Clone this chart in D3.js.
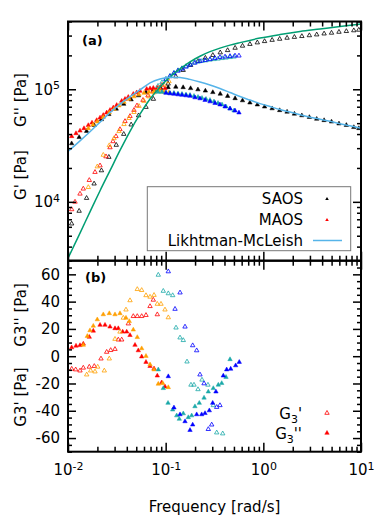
<!DOCTYPE html>
<html><head><meta charset="utf-8">
<script src="https://cdn.jsdelivr.net/npm/d3@7"></script>
<style>body{margin:0;background:#fff}svg{display:block}text{font-family:"DejaVu Sans",sans-serif}</style>
</head><body><svg id="c" width="390" height="520"></svg>
<script>
// ---------- DATA ----------
const xTickLabels = [0.01, 0.1, 1, 10];
const yATickLabels = [1e4, 1e5];
const yBTickLabels = [-60, -40, -20, 0, 20, 40, 60];

const saosFreq = [0.0109,0.0130,0.0155,0.0185,0.0220,0.0262,0.0312,0.0372,0.0443,0.0528,0.0629,0.0749,0.0892,0.106,0.127,0.151,0.180,0.214,0.255,0.304,0.362,0.431,0.514,0.612,0.729,0.868,1.03,1.23,1.47,1.75,2.08,2.48,2.96,3.52,4.19,4.99,5.95,7.08,8.44,9.5];
const saosStorage = [6.4e3,8.3e3,1.08e4,1.45e4,1.9e4,2.5e4,3.2e4,4.0e4,4.85e4,5.85e4,6.95e4,8.2e4,9.6e4,1.12e5,1.3e5,1.48e5,1.64e5,1.78e5,1.9e5,2.01e5,2.12e5,2.22e5,2.33e5,2.43e5,2.52e5,2.6e5,2.67e5,2.74e5,2.8e5,2.86e5,2.91e5,2.96e5,3.01e5,3.06e5,3.12e5,3.17e5,3.23e5,3.28e5,3.33e5,3.37e5];
const saosLoss = [3.3e4,3.75e4,4.25e4,4.8e4,5.4e4,6.0e4,6.7e4,7.4e4,8.1e4,8.8e4,9.4e4,9.9e4,1.02e5,1.04e5,1.05e5,1.04e5,1.02e5,9.95e4,9.7e4,9.4e4,9.1e4,8.7e4,8.3e4,7.95e4,7.6e4,7.3e4,7.0e4,6.75e4,6.5e4,6.3e4,6.05e4,5.85e4,5.65e4,5.45e4,5.3e4,5.15e4,4.95e4,4.8e4,4.6e4,4.5e4];

const lmFreq = [0.0100,0.01327,0.01679,0.02128,0.02692,0.03405,0.04314,0.05458,0.06918,0.0875,0.1107,0.1403,0.1775,0.2245,0.2843,0.3597,0.456,0.5768,0.7298,0.9247,1.17,1.482,1.875,2.373,3.006,3.802,4.815,6.095,7.713,10.0];
const lmLoss = [2.80e4,3.48e4,4.19e4,5.10e4,6.20e4,7.39e4,8.62e4,9.86e4,1.139e5,1.236e5,1.281e5,1.275e5,1.224e5,1.162e5,1.093e5,1.016e5,9.36e4,8.62e4,8.02e4,7.46e4,7.02e4,6.60e4,6.27e4,5.95e4,5.65e4,5.42e4,5.20e4,4.94e4,4.74e4,4.51e4];

const greenFreq = [0.01,0.01327,0.01679,0.02128,0.02692,0.03405,0.04314,0.05458,0.06918,0.0875,0.1107,0.1403,0.1775,0.2245,0.2843,0.3597,0.456,0.5768,0.9247,1.482,2.373,3.802,6.095,10.0];
const greenStorage = [3152,5279,8139,1.255e4,1.894e4,2.861e4,4.234e4,6.009e4,8.189e4,1.049e5,1.289e5,1.520e5,1.755e5,1.966e5,2.158e5,2.320e5,2.467e5,2.597e5,2.850e5,3.063e5,3.259e5,3.431e5,3.613e5,3.803e5];

// MAOS, panel (a): [frequency, modulus]
const redStorage = [[0.01091,8567],[0.0118,1.0e4],[0.01327,1.179e4],[0.01434,1.307e4],[0.01652,1.558e4],[0.0189,1.837e4],[0.02128,2.101e4],[0.0245,2.529e4],[0.02692,3.043e4],[0.02888,3.445e4],[0.031,3.82e4],[0.03405,4.41e4],[0.03834,5.2e4],[0.04314,5.77e4],[0.04739,6.53e4],[0.05086,7.16e4],[0.0586,8.02e4],[0.06592,8.8e4],[0.07418,9.56e4],[0.08356,1.027e5],[0.09164,1.093e5]];
const redLoss = [[0.01091,3.82e4],[0.01208,4.06e4],[0.01327,4.28e4],[0.01458,4.5e4],[0.01614,4.79e4],[0.01761,5.04e4],[0.01967,5.31e4],[0.02128,5.59e4],[0.02298,5.89e4],[0.02489,6.2e4],[0.02692,6.53e4],[0.02909,6.87e4],[0.03152,7.23e4],[0.03546,7.86e4],[0.03834,8.19e4],[0.04144,8.53e4],[0.04662,9.08e4],[0.0505,9.36e4],[0.05458,9.65e4],[0.06393,1.006e5],[0.06918,1.017e5],[0.07471,1.027e5],[0.08151,1.027e5],[0.0875,1.027e5],[0.0984,1.017e5]];
const orangeStorage = [[0.01614,1.349e4],[0.01995,2.058e4],[0.02298,2.609e4],[0.02647,3.172e4],[0.02958,3.664e4],[0.03328,4.234e4],[0.03742,4.89e4],[0.04213,5.535e4],[0.04739,6.26e4],[0.05332,7.09e4],[0.05998,7.86e4],[0.0675,8.62e4],[0.07603,9.36e4],[0.08544,1.017e5],[0.09616,1.093e5],[0.1082,1.175e5]];
const orangeLoss = [[0.01614,4.5e4],[0.01803,4.84e4],[0.01995,5.15e4],[0.02298,5.65e4],[0.02647,6.2e4],[0.02958,6.66e4],[0.03328,7.16e4],[0.03742,7.7e4],[0.04213,8.19e4],[0.04739,8.62e4],[0.05332,8.98e4],[0.05998,9.27e4],[0.0675,9.46e4],[0.07603,9.56e4],[0.08544,9.56e4],[0.09616,9.46e4],[0.1082,9.36e4]];
const tealStorage = [[0.08356,1.07e5],[0.09164,1.151e5],[0.1007,1.236e5],[0.1107,1.315e5],[0.1216,1.399e5],[0.1337,1.473e5],[0.1469,1.536e5],[0.1615,1.6e5],[0.1775,1.667e5],[0.195,1.72e5],[0.2143,1.755e5],[0.2355,1.781e5],[0.2588,1.803e5],[0.2843,1.829e5],[0.3126,1.848e5],[0.3436,1.867e5],[0.3776,1.887e5],[0.415,1.906e5],[0.456,1.926e5],[0.5012,1.946e5]];
const tealLoss = [[0.08356,9.46e4],[0.09164,9.46e4],[0.1007,9.36e4],[0.1107,9.27e4],[0.1216,9.27e4],[0.1337,9.17e4],[0.1469,9.08e4],[0.1615,8.98e4],[0.1775,8.89e4],[0.195,8.71e4],[0.2143,8.53e4],[0.2355,8.36e4],[0.2588,8.19e4],[0.2843,8.02e4],[0.3126,7.78e4],[0.3436,7.54e4],[0.3776,7.31e4],[0.415,7.02e4],[0.456,6.73e4],[0.5012,6.46e4]];
const blueStorage = [[0.1007,1.224e5],[0.1107,1.302e5],[0.1216,1.385e5],[0.1337,1.458e5],[0.1469,1.52e5],[0.1615,1.584e5],[0.1775,1.65e5],[0.1995,1.72e5],[0.2245,1.774e5],[0.2529,1.811e5],[0.2843,1.848e5],[0.3199,1.887e5],[0.3597,1.926e5],[0.4055,1.946e5],[0.456,1.966e5],[0.5129,1.987e5],[0.563,1.987e5]];
const blueLoss = [[0.1007,9.27e4],[0.1107,9.17e4],[0.1216,9.08e4],[0.1337,8.98e4],[0.1469,8.89e4],[0.1615,8.8e4],[0.1775,8.71e4],[0.1995,8.45e4],[0.2245,8.28e4],[0.2529,8.02e4],[0.2843,7.78e4],[0.3199,7.54e4],[0.3597,7.31e4],[0.4055,7.02e4],[0.456,6.73e4],[0.5129,6.46e4],[0.563,6.2e4]];

// MAOS, panel (b): [frequency, G3 value]
const redG3p = [[0.01091,-9.3],[0.01199,-9.8],[0.01327,-10.6],[0.01434,-8.5],[0.01652,-7.8],[0.01859,-7.3],[0.02177,-1.8],[0.02489,3.1],[0.02736,4.4],[0.03028,5.2],[0.03273,12.1],[0.03546,12.1],[0.04144,23.9],[0.04662,29.3],[0.05122,29.3],[0.05683,29.3],[0.06289,30.1],[0.06918,36.6],[0.07471,41.3],[0.08209,30.6]];
const redG3pp = [[0.01091,6.4],[0.01208,7.6],[0.01327,8.0],[0.01434,9.1],[0.01652,14.1],[0.01816,18.6],[0.02128,22.9],[0.02393,22.9],[0.02692,21.6],[0.03028,20.4],[0.03273,20.4],[0.03631,17.9],[0.0399,17.9],[0.04314,15.4],[0.04853,8.2],[0.05246,4.2],[0.05683,-0.3],[0.06289,-4.3],[0.06918,-7.3],[0.07603,-9.1],[0.08209,-14.3],[0.09105,-19.3],[0.0984,-22.3]];
const orangeG3p = [[0.01554,-13.5],[0.01707,-10.6],[0.0189,-11.3],[0.02014,-7.8],[0.02353,-10.6],[0.02647,-1.8],[0.03028,12.6],[0.03405,17.9],[0.03683,28.1],[0.03923,34.1],[0.04314,40.9],[0.05122,49.1],[0.05683,48.4],[0.06289,44.6],[0.06918,43.5],[0.07603,44.8],[0.08209,38.3],[0.08957,38.3],[0.0984,34.1],[0.1064,28.4]];
const orangeG3pp = [[0.01434,8.2],[0.01577,14.7],[0.01679,18.9],[0.01816,22.2],[0.01995,26.9],[0.02298,30.6],[0.02647,31.4],[0.03028,30.6],[0.03405,31.4],[0.03923,28.1],[0.04242,25.6],[0.04662,19.4],[0.05122,13.9],[0.05683,5.7],[0.06289,0.1],[0.06918,-6.1],[0.07603,-9.8],[0.08404,-20.3],[0.09324,-19.8],[0.1064,-22.8]];
const tealG3p = [[0.08404,59.6],[0.09456,47.8],[0.1064,46.0],[0.118,44.6],[0.1276,20.9],[0.1403,13.6],[0.1515,11.7],[0.1654,-4],[0.1816,-21],[0.195,-21],[0.2143,-24.3],[0.2355,-17.3],[0.271,-21],[0.3074,-36],[0.3331,-56],[0.3837,-56.7]];
const tealG3pp = [[0.08404,-9.8],[0.09456,-23.5],[0.1057,-34.3],[0.118,-39.2],[0.1297,-43.5],[0.1379,-46],[0.1515,-42],[0.1705,-44.8],[0.1847,-43.5],[0.1995,-36.8],[0.221,-34.3],[0.2472,-30.5],[0.2732,-26],[0.3074,-23.5],[0.3459,-21],[0.3748,-19.8],[0.415,-15.3],[0.456,-2.3]];
const blueG3p = [[0.1064,62.1],[0.1247,34.6],[0.1403,46.6],[0.1578,21.6],[0.1891,7.9],[0.2078,4.2],[0.2245,-13.5],[0.2472,-20],[0.2732,-53.5],[0.296,-50.2],[0.3331,-37.3],[0.3597,-36]];
const blueG3pp = [[0.1064,-14.8],[0.1216,-37.7],[0.1403,-42.7],[0.1578,-47.8],[0.1775,-54.2],[0.1891,-50.2],[0.2078,-42.7],[0.2338,-42.7],[0.2529,-41.8],[0.2798,-39.8],[0.303,-34.3],[0.3273,-26],[0.3892,-14.3],[0.4214,-9.8],[0.4632,-9.3],[0.5212,-6.8],[0.5671,-4.3]];

// ---------- LAYOUT ----------
const L=68, R=361, T=21.5, M=260.7, B=451.7;
const FONT = '"DejaVu Sans", sans-serif';
const x  = d3.scaleLog().domain([0.01,10]).range([L,R]);
const yA = d3.scaleLog().domain([3e3,4e5]).range([M,T]);
const yB = d3.scaleLinear().domain([-70,70]).range([B,M]);
const svg = d3.select("#c");

const COL = {black:"#000000", red:"#ff0000", orange:"#ff9f00", teal:"#1aa8a8", blue:"#0000ff", green:"#009e73", sky:"#56b4e9"};
const MS = 2.2;

const tri = (cx,cy,s)=>`M${cx},${cy-s*1.15}L${cx+s},${cy+s*0.6}L${cx-s},${cy+s*0.6}Z`;
function pts(data, ys, color, open){
  svg.append("g").selectAll("path").data(data).join("path")
    .attr("d", d=>tri(x(d[0]), ys(d[1]), MS))
    .attr("fill", open ? "none" : color)
    .attr("stroke", color)
    .attr("stroke-width", open ? 0.8 : 0.5);
}

// panel (a) data
pts(d3.zip(saosFreq, saosStorage), yA, COL.black, true);
pts(d3.zip(saosFreq, saosLoss), yA, COL.black, false);
pts(redStorage, yA, COL.red, true);   pts(redLoss, yA, COL.red, false);
pts(orangeStorage, yA, COL.orange, true); pts(orangeLoss, yA, COL.orange, false);
pts(tealStorage, yA, COL.teal, true); pts(tealLoss, yA, COL.teal, false);
pts(blueStorage, yA, COL.blue, true); pts(blueLoss, yA, COL.blue, false);

const lineA = d3.line().x(d=>x(d[0])).y(d=>yA(d[1])).curve(d3.curveMonotoneX);
svg.append("path").attr("d", lineA(d3.zip(greenFreq, greenStorage)))
  .attr("fill","none").attr("stroke",COL.green).attr("stroke-width",1.5);
svg.append("path").attr("d", lineA(d3.zip(lmFreq, lmLoss)))
  .attr("fill","none").attr("stroke",COL.sky).attr("stroke-width",1.5);

// panel (b) data
pts(redG3p, yB, COL.red, true);  pts(redG3pp, yB, COL.red, false);
pts(orangeG3p, yB, COL.orange, true); pts(orangeG3pp, yB, COL.orange, false);
pts(tealG3p, yB, COL.teal, true); pts(tealG3pp, yB, COL.teal, false);
pts(blueG3p, yB, COL.blue, true); pts(blueG3pp, yB, COL.blue, false);

// ---------- AXES ----------
function style(g){
  g.select(".domain").remove();
  g.selectAll("line").attr("stroke","#000").attr("stroke-width",1.5);
  g.attr("font-family", FONT).attr("font-size", 15);
  g.selectAll("text").attr("fill","#000");
}
function supText(g, fmtExp){
  g.selectAll(".tick text").each(function(d){
    const t = d3.select(this); t.text(null);
    t.append("tspan").text("10");
    t.append("tspan").attr("dy","-0.5em").attr("font-size","11px").text(fmtExp(d));
  });
}
const xMin = x.ticks().filter(v => !xTickLabels.some(m => Math.abs(m-v)/v < 1e-6));
const yAMin = yA.ticks().filter(v => !yATickLabels.some(m => Math.abs(m-v)/v < 1e-6));
const yBMin = d3.range(-70, 71, 5).filter(v => v % 20 !== 0);

[[T, d3.axisTop], [M, d3.axisBottom], [M, d3.axisTop], [B, d3.axisBottom]].forEach(([yy, ax], i)=>{
  const last = i === 3;
  svg.append("g").attr("transform",`translate(0,${yy})`)
    .call(ax(x).tickValues(xTickLabels).tickSize(-9).tickPadding(13).tickFormat(()=>""))
    .call(style).call(g => { if (last) supText(g, d => String(Math.round(Math.log10(d)))); else g.selectAll("text").remove(); });
  svg.append("g").attr("transform",`translate(0,${yy})`)
    .call(ax(x).tickValues(xMin).tickSize(-5).tickFormat(()=>""))
    .call(style).call(g=>g.selectAll("text").remove());
});

svg.append("g").attr("transform",`translate(${L},0)`)
  .call(d3.axisLeft(yA).tickValues(yATickLabels).tickSize(-8).tickPadding(8).tickFormat(()=>""))
  .call(style).call(g => supText(g, d => String(Math.round(Math.log10(d)))));
svg.append("g").attr("transform",`translate(${L},0)`)
  .call(d3.axisLeft(yA).tickValues(yAMin).tickSize(-4).tickFormat(()=>"")).call(style).call(g=>g.selectAll("text").remove());
svg.append("g").attr("transform",`translate(${R},0)`)
  .call(d3.axisRight(yA).tickValues(yATickLabels).tickSize(-8).tickFormat(()=>"")).call(style).call(g=>g.selectAll("text").remove());
svg.append("g").attr("transform",`translate(${R},0)`)
  .call(d3.axisRight(yA).tickValues(yAMin).tickSize(-4).tickFormat(()=>"")).call(style).call(g=>g.selectAll("text").remove());

svg.append("g").attr("transform",`translate(${L},0)`)
  .call(d3.axisLeft(yB).tickValues(yBTickLabels).tickSize(-8).tickPadding(8).tickFormat(d=>String(d))).call(style);
svg.append("g").attr("transform",`translate(${L},0)`)
  .call(d3.axisLeft(yB).tickValues(yBMin).tickSize(-4).tickFormat(()=>"")).call(style).call(g=>g.selectAll("text").remove());
svg.append("g").attr("transform",`translate(${R},0)`)
  .call(d3.axisRight(yB).tickValues(yBTickLabels).tickSize(-8).tickFormat(()=>"")).call(style).call(g=>g.selectAll("text").remove());
svg.append("g").attr("transform",`translate(${R},0)`)
  .call(d3.axisRight(yB).tickValues(yBMin).tickSize(-4).tickFormat(()=>"")).call(style).call(g=>g.selectAll("text").remove());

svg.append("rect").attr("x",L).attr("y",T).attr("width",R-L).attr("height",M-T)
  .attr("fill","none").attr("stroke","#000").attr("stroke-width",2);
svg.append("rect").attr("x",L).attr("y",M).attr("width",R-L).attr("height",B-M)
  .attr("fill","none").attr("stroke","#000").attr("stroke-width",2);

// ---------- LABELS ----------
const txt = (xx,yy,s,opt={}) => svg.append("text").attr("x",xx).attr("y",yy)
  .attr("font-family",FONT).attr("font-size",opt.size||15)
  .attr("font-weight",opt.weight||"normal").attr("text-anchor",opt.anchor||"start").text(s);

txt((L+R)/2, 512, "Frequency [rad/s]", {anchor:"middle"});
txt(82, 45, "(a)", {size:13, weight:"bold"});
txt(85, 282, "(b)", {size:13, weight:"bold"});

[["G'' [Pa]",100],["G' [Pa]",175],["G3'' [Pa]",315],["G3' [Pa]",397]].forEach(([s,cy])=>{
  svg.append("text").attr("transform",`translate(26,${cy}) rotate(-90)`)
    .attr("font-family",FONT).attr("font-size",15).attr("text-anchor","middle").text(s);
});

svg.append("rect").attr("x",147.3).attr("y",186.7).attr("width",203.4).attr("height",64)
  .attr("fill","#fff").attr("stroke","#777").attr("stroke-width",1);
txt(303, 204, "SAOS", {anchor:"end"});
txt(303, 225, "MAOS", {anchor:"end"});
txt(303, 246, "Likhtman-McLeish", {anchor:"end"});
svg.append("path").attr("d", tri(327,199,1.8)).attr("fill",COL.black);
svg.append("path").attr("d", tri(327,220,1.8)).attr("fill",COL.red);
svg.append("line").attr("x1",313).attr("x2",342).attr("y1",240.5).attr("y2",240.5)
  .attr("stroke",COL.sky).attr("stroke-width",1.5);

[["'",419,413,true],["''",439,433,false]].forEach(([pr,by,sy,open])=>{
  const t = svg.append("text").attr("x",302).attr("y",by).attr("font-family",FONT)
    .attr("font-size",15).attr("text-anchor","end");
  t.append("tspan").text("G");
  t.append("tspan").attr("dy",4).attr("font-size","11px").text("3");
  t.append("tspan").attr("dy",-4).text(pr);
  svg.append("path").attr("d", tri(327,sy,MS)).attr("fill",open?"none":COL.red)
    .attr("stroke",COL.red).attr("stroke-width",open?0.8:0.5);
});
</script></body></html>
